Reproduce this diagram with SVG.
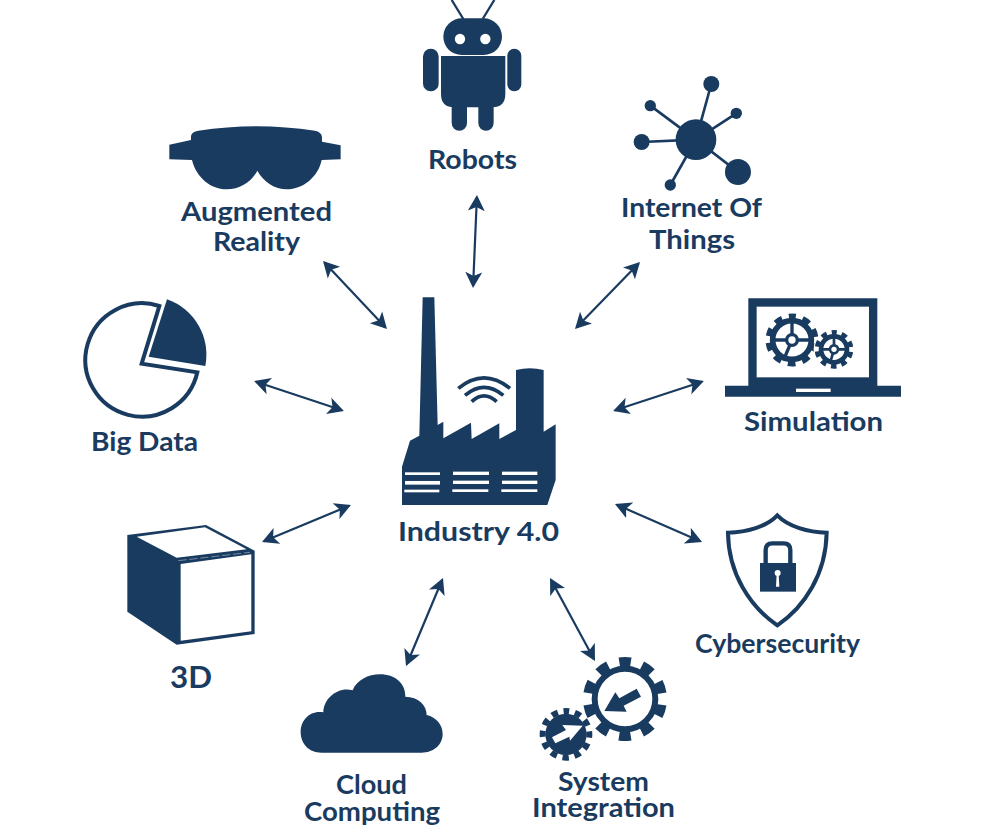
<svg xmlns="http://www.w3.org/2000/svg" width="984" height="826" viewBox="0 0 984 826">
<style>
.d{fill:#1a3b60}
.w{fill:#fff}
.o{fill:none;stroke:#1a3b60}
text{font-family:Lato,"Open Sans","Liberation Sans",sans-serif;font-weight:700;fill:#1a3b60;font-size:27px}
.c{stroke:#1a3b60;stroke-width:2.2;fill:none;marker-start:url(#ah);marker-end:url(#ah)}
</style>
<defs>
<marker id="ah" markerUnits="userSpaceOnUse" viewBox="0 -9 16 18" refX="14" refY="0" markerWidth="16" markerHeight="18" orient="auto-start-reverse">
<path class="d" d="M16 0L0-8.5 4 0 0 8.500Z"/>
</marker>
</defs>
<rect width="984" height="826" fill="#fff"/>
<g id="connectors">
<line class="c" x1="476.900" y1="197" x2="473.100" y2="286"/>
<line class="c" x1="638.600" y1="263.400" x2="576.400" y2="327.600"/>
<line class="c" x1="324.400" y1="262.500" x2="385.600" y2="327.500"/>
<line class="c" x1="256" y1="381.700" x2="342" y2="410.300"/>
<line class="c" x1="702" y1="381.700" x2="615" y2="410.300"/>
<line class="c" x1="263.900" y1="541.200" x2="349.100" y2="505.800"/>
<line class="c" x1="616.800" y1="504.800" x2="700.200" y2="541.200"/>
<line class="c" x1="442.200" y1="579.800" x2="406.800" y2="664.200"/>
<line class="c" x1="551" y1="579.800" x2="594" y2="659.200"/>
</g>
<g id="robots">
<g transform="translate(390 0) scale(.3333)">
<path class="o" stroke-width="7" d="M220 57L185 0M278 57L313 0"/>
<rect class="d" x="160" y="55" width="176" height="110" rx="55"/>
<circle class="w" cx="210" cy="117" r="15.500"/><circle class="w" cx="286" cy="117" r="15.500"/>
<rect class="d" x="99" y="146" width="47" height="128" rx="23"/>
<rect class="d" x="352" y="146" width="42" height="128" rx="21"/>
<path class="d" d="M153 168H346V282Q346 322 306 322H193Q153 322 153 282Z"/>
<rect class="d" x="185" y="290" width="46" height="102" rx="23"/>
<rect class="d" x="265" y="290" width="46" height="102" rx="23"/>
</g>
<text x="472.500" y="168.500" text-anchor="middle" textLength="89" lengthAdjust="spacingAndGlyphs">Robots</text>
</g>
<g id="iot">
<g transform="translate(390 0) scale(.3333)">
<path class="o" stroke-width="8" d="M918 419L964 252M918 419L781 317M918 419L1039 340M918 419L755 426M918 419L1044 516M918 419L841 555"/>
<g class="d"><circle cx="918" cy="419" r="61"/><circle cx="964" cy="252" r="24"/><circle cx="781" cy="317" r="17"/><circle cx="1039" cy="340" r="17"/><circle cx="755" cy="426" r="24"/><circle cx="1044" cy="516" r="39"/><circle cx="841" cy="555" r="17"/></g>
</g>
<text x="691.500" y="216.500" text-anchor="middle" textLength="141" lengthAdjust="spacingAndGlyphs">Internet Of</text>
<text x="692" y="248.500" text-anchor="middle" textLength="86" lengthAdjust="spacingAndGlyphs">Things</text>
</g>
<g id="augmented-reality">
<path class="d" transform="translate(70 110) scale(.3333)" d="M298 104L363 90V78Q366 65 385 62Q560 35 735 62Q754 66 756 80V95L812 106V148L755 150C745 200 700 238 650 238C615 238 580 215 562 182C545 215 510 238 470 238C420 238 378 200 366 150L298 148Z"/>
<text x="256.500" y="221" text-anchor="middle" textLength="151" lengthAdjust="spacingAndGlyphs">Augmented</text>
<text x="256.500" y="251" text-anchor="middle" textLength="87" lengthAdjust="spacingAndGlyphs">Reality</text>
</g>
<g id="big-data">
<g transform="translate(70 110) scale(.3333)">
<path class="o" stroke-width="12" d="M268 588A170 170 0 1 0 382 787L215 761Z"/>
<path class="d" d="M291 568A176 176 0 0 1 406 768L236 740Z"/>
</g>
<text x="144.500" y="451" text-anchor="middle" textLength="107" lengthAdjust="spacingAndGlyphs">Big Data</text>
</g>
<g id="simulation">
<g transform="translate(700 290) scale(.3333)">
<path class="d" d="M145 25H532V287H603V320H75V287H145Z"/>
<rect class="w" x="170" y="50" width="337" height="212"/>
<rect class="w" x="288" y="296" width="104" height="10"/>
<circle class="o" cx="276" cy="150" r="58" stroke-width="17"/>
<circle class="o" cx="276" cy="150" r="71" stroke-width="17" pathLength="360" stroke-dasharray="19 17" stroke-dashoffset="9.500" transform="rotate(-90 276 150)"/>
<path class="o" stroke-width="10" d="M276 150V95M276 150H338M276 150L215 150M276 150L250 212"/>
<circle class="d" cx="276" cy="150" r="21"/><circle class="w" cx="276" cy="150" r="11"/>
<circle class="w" cx="402" cy="178" r="61"/>
<circle class="o" cx="402" cy="178" r="39" stroke-width="14"/>
<circle class="o" cx="402" cy="178" r="51" stroke-width="14" pathLength="360" stroke-dasharray="19 17" stroke-dashoffset="9.500" transform="rotate(-90 402 178)"/>
<path class="o" stroke-width="8" d="M402 178V138M402 178H445M402 178H360M402 178L390 220"/>
<circle class="d" cx="402" cy="178" r="16"/><circle class="w" cx="402" cy="178" r="8"/>
</g>
<text x="813.500" y="430.500" text-anchor="middle" textLength="139" lengthAdjust="spacingAndGlyphs">Simulation</text>
</g>
<g id="industry-4-0">
<g transform="translate(390 290) scale(.3333)">
<path class="d" d="M36 645V530L60 452 88 437 98 22H133L143 405 160 395V445L243 398 245 447 328 400V447L378 420V240Q420 230 461 240V425L497 403V570L472 645Z"/>
<g class="w">
<rect x="45" y="547" width="105" height="8"/><rect x="45" y="573" width="105" height="11"/><rect x="43" y="599" width="105" height="8"/>
<rect x="189" y="545" width="108" height="10"/><rect x="189" y="572" width="108" height="10"/><rect x="187" y="598" width="108" height="8"/>
<rect x="336" y="545" width="106" height="10"/><rect x="336" y="572" width="106" height="10"/><rect x="334" y="598" width="108" height="8"/>
</g>
<path class="o" stroke-width="11" d="M205 295Q282 232 360 295M225 316Q282 268 340 316M245 335Q282 300 320 335"/>
</g>
<text x="478.500" y="541" text-anchor="middle" textLength="161" lengthAdjust="spacingAndGlyphs">Industry 4.0</text>
</g>
<g id="cybersecurity">
<g transform="translate(690 500) scale(.3333)">
<path class="o" stroke-width="12" d="M262 46C230 80 170 97 114 98C115 220 180 320 262 376C345 320 408 220 410 98C355 97 295 80 262 46Z"/>
<path class="o" stroke-width="13" d="M227 192V150Q227 130 247 130H281Q301 130 301 150V192"/>
<rect class="d" x="210" y="189" width="108" height="86"/>
<circle class="w" cx="263" cy="219" r="9"/><path class="w" d="M260 222H266L268 260H258Z"/>
</g>
<text x="777.500" y="653" text-anchor="middle" textLength="165" lengthAdjust="spacingAndGlyphs">Cybersecurity</text>
</g>
<g id="system-integration">
<g transform="translate(520 640) scale(.3333)">
<circle class="o" cx="315" cy="177" r="91" stroke-width="18"/>
<circle class="o" cx="315" cy="177" r="110" stroke-width="32" pathLength="360" stroke-dasharray="18 18" stroke-dashoffset="9" transform="rotate(-90 315 177)"/>
<path class="d" d="M253 213L286 157 298 175 350 146 363 170 311 197 320 215Z"/>
<circle class="d" cx="138" cy="283" r="62"/>
<circle class="o" cx="138" cy="283" r="70" stroke-width="18" pathLength="360" stroke-dasharray="16 14" stroke-dashoffset="8" transform="rotate(-90 138 283)"/>
<path class="w" d="M188 257L150 302 148 290 106 310 96 292 138 270 127 255Z"/>
</g>
<text x="603.500" y="791" text-anchor="middle" textLength="91" lengthAdjust="spacingAndGlyphs">System</text>
<text x="603.500" y="817" text-anchor="middle" textLength="143" lengthAdjust="spacingAndGlyphs">Integration</text>
</g>
<g id="cloud">
<path class="d" transform="translate(290 660) scale(.3333)" d="M95 278C55 278 32 250 32 216C32 180 60 150 100 157C100 115 145 78 188 91C200 60 235 43 270 43C315 43 347 70 346 110C385 110 410 135 410 165C440 172 458 195 458 222C458 255 430 278 395 278Z"/>
<text x="371.500" y="794" text-anchor="middle" textLength="71" lengthAdjust="spacingAndGlyphs">Cloud</text>
<text x="372" y="821" text-anchor="middle" textLength="136" lengthAdjust="spacingAndGlyphs">Computing</text>
</g>
<g id="three-d">
<g transform="translate(110 510) scale(.3333)">
<path class="d" d="M52 75L288 45 434 122V372L200 404 52 305Z"/>
<path class="w" d="M80 80L285 52 410 118 200 143Z"/>
<path class="w" d="M212 162L424 133V364L212 392Z"/>
<path d="M205 152L420 127" stroke="#fff" stroke-opacity=".6" stroke-width="2" stroke-dasharray="25 8" fill="none"/>
</g>
<text x="191" y="688" text-anchor="middle" textLength="42" lengthAdjust="spacingAndGlyphs" style="font-size:30px">3D</text>
</g>
</svg>
